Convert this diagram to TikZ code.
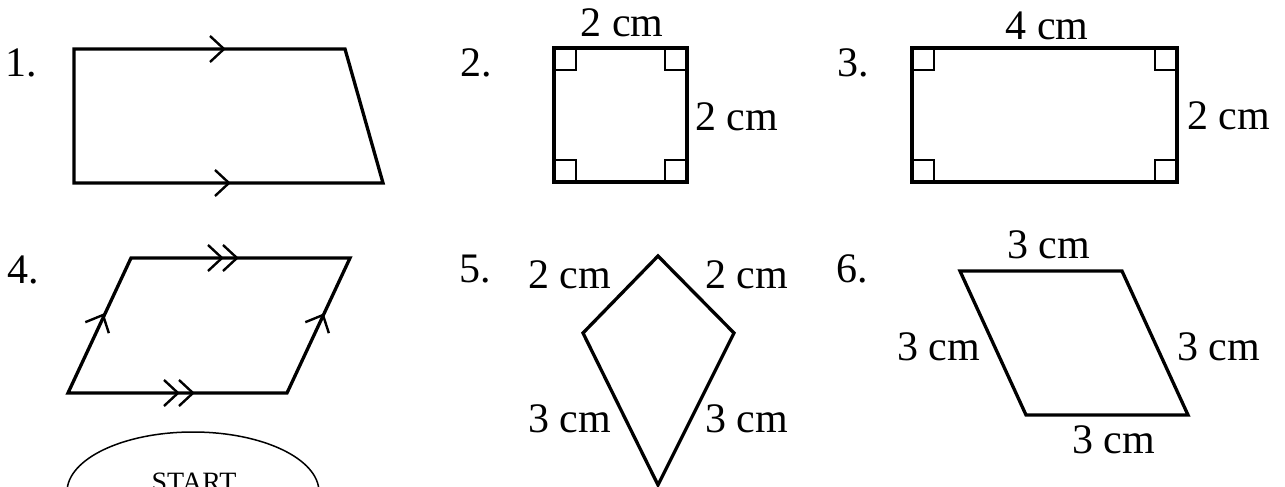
\documentclass[tikz,border=0pt]{standalone}
\usepackage{fontspec}
\setmainfont{Liberation Serif}
\usetikzlibrary{shapes.geometric}
\newcommand{\pchev}[3]{\draw[chev,shift={(#1,#2)},rotate=#3] (-14,-13) -- (0,0) -- (-14,13);}
% right-angle mark at corner (#1,#2), pointing inwards by signs #3 (x) and #4 (y)
\newcommand{\rmark}[4]{\draw[rmk] (#1+#3*22,#2) -- (#1+#3*22,#2+#4*22) -- (#1,#2+#4*22);}
\tikzset{
  shapeline/.style={line width=3.3pt, line join=miter},
  chev/.style={line width=2.4pt},
  rmk/.style={line width=2.3pt},
  lbl/.style={font=\fontsize{42}{50}\selectfont, inner sep=0pt},
  startlbl/.style={font=\fontsize{28}{34}\selectfont, inner sep=0pt},
  oval/.style={ellipse, draw, line width=1.5pt, minimum width=252pt, minimum height=120pt, inner sep=0pt}
}
\begin{document}
\begin{tikzpicture}[x=1pt,y=-1pt]
\clip (0,0) rectangle (1285,487);
\fill[white] (0,0) rectangle (1285,487);

% ---------- 1. trapezium
\coordinate (a1) at (74,49);
\coordinate (b1) at (345,49);
\coordinate (c1) at (383,183);
\coordinate (d1) at (74,183);
\draw[shapeline] (a1) -- (b1) -- (c1) -- (d1) -- cycle;
\pchev{224}{49}{0}
\pchev{229}{183}{0}
\node[lbl, anchor=base west] (n1) at (5,77) {1.};

% ---------- 2. square
\coordinate (a2) at (554,48);
\coordinate (c2) at (687,182);
\draw[shapeline] (a2) rectangle (c2);
\rmark{554}{48}{1}{1}
\rmark{687}{48}{-1}{1}
\rmark{687}{182}{-1}{-1}
\rmark{554}{182}{1}{-1}
\node[lbl, anchor=base west] (n2) at (460,77) {2.};
\node[lbl, anchor=base] (s2top) at (622,37) {2 cm};
\node[lbl, anchor=base west] (s2right) at (695,130) {2 cm};

% ---------- 3. rectangle
\coordinate (a3) at (912,48);
\coordinate (c3) at (1177,182);
\draw[shapeline] (a3) rectangle (c3);
\rmark{912}{48}{1}{1}
\rmark{1177}{48}{-1}{1}
\rmark{1177}{182}{-1}{-1}
\rmark{912}{182}{1}{-1}
\node[lbl, anchor=base west] (n3) at (837,77) {3.};
\node[lbl, anchor=base] (s3top) at (1047,40) {4 cm};
\node[lbl, anchor=base west] (s3right) at (1187,129) {2 cm};

% ---------- 4. parallelogram
\coordinate (a4) at (131,258);
\coordinate (b4) at (350,258);
\coordinate (c4) at (287,393);
\coordinate (d4) at (68,393);
\draw[shapeline] (a4) -- (b4) -- (c4) -- (d4) -- cycle;
\pchev{222}{258}{0}
\pchev{237}{258}{0}
\pchev{178}{393}{0}
\pchev{193}{393}{0}
\pchev{103}{315}{65}
\pchev{323}{315}{65}
\node[lbl, anchor=base west] (n4) at (7,283) {4.};

% ---------- START oval
\node[oval] (startoval) at (193,492) {};
\node[startlbl, anchor=base] (starttext) at (194,491.5) {START};

% ---------- 5. kite
\coordinate (a5) at (658,256);
\coordinate (b5) at (734,333);
\coordinate (c5) at (658,485);
\coordinate (d5) at (583,333);
\draw[shapeline] (a5) -- (b5) -- (c5) -- (d5) -- cycle;
\node[lbl, anchor=base west] (n5) at (459,282) {5.};
\node[lbl, anchor=base west] (k1) at (528,288) {2 cm};
\node[lbl, anchor=base west] (k2) at (705,288) {2 cm};
\node[lbl, anchor=base west] (k3) at (528,432) {3 cm};
\node[lbl, anchor=base west] (k4) at (705,432) {3 cm};

% ---------- 6. rhombus
\coordinate (a6) at (960,271);
\coordinate (b6) at (1122,271);
\coordinate (c6) at (1188,415);
\coordinate (d6) at (1026,415);
\draw[shapeline] (a6) -- (b6) -- (c6) -- (d6) -- cycle;
\node[lbl, anchor=base west] (n6) at (836,282) {6.};
\node[lbl, anchor=base west] (r1) at (1007,258) {3 cm};
\node[lbl, anchor=base west] (r2) at (897,360) {3 cm};
\node[lbl, anchor=base west] (r3) at (1177,360) {3 cm};
\node[lbl, anchor=base west] (r4) at (1072,453) {3 cm};
\end{tikzpicture}
\end{document}
